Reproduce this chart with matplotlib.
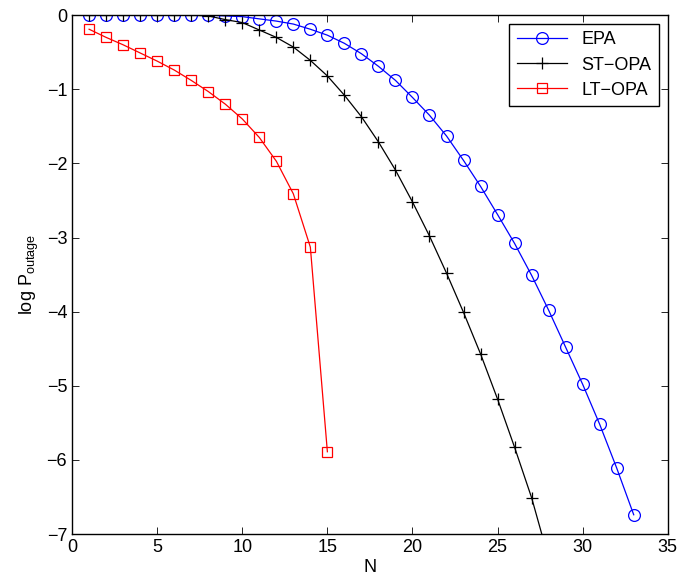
import numpy as np
import matplotlib as mpl
import matplotlib.pyplot as plt

mpl.rcParams['font.family'] = ['Liberation Sans', 'DejaVu Sans']
mpl.rcParams['font.size'] = 13
mpl.rcParams['axes.linewidth'] = 1.0

# outage curves
n_epa = list(range(1, 34))
epa = [0, 0, 0, 0, 0, 0, 0, 0, -0.01, -0.02, -0.05, -0.08, -0.12, -0.19,
       -0.27, -0.38, -0.52, -0.69, -0.88, -1.11, -1.35, -1.63, -1.96,
       -2.31, -2.69, -3.08, -3.51, -3.98, -4.48, -4.98, -5.52, -6.11, -6.74]

n_st = list(range(1, 29))
st_opa = [0, 0, 0, 0, 0, 0, 0, -0.01, -0.06, -0.10, -0.20, -0.30, -0.43,
          -0.61, -0.82, -1.08, -1.37, -1.71, -2.09, -2.52, -2.98, -3.48,
          -4.01, -4.57, -5.18, -5.83, -6.51, -7.33]

n_lt = list(range(1, 16))
lt_opa = [-0.19, -0.30, -0.40, -0.51, -0.62, -0.74, -0.88, -1.03, -1.20,
          -1.40, -1.65, -1.97, -2.41, -3.13, -5.89]

fig = plt.figure(figsize=(6.8, 5.83), dpi=100)
ax = fig.add_axes([0.106, 0.084, 0.876, 0.89])

ax.plot(n_epa, epa, color='blue', lw=0.9, marker='o', ms=8.5,
        mfc='none', mew=0.9, label='EPA')
ax.plot(n_st, st_opa, color='black', lw=0.9, marker='+', ms=9,
        mew=0.9, label='ST\u2212OPA')
ax.plot(n_lt, lt_opa, color='red', lw=0.9, marker='s', ms=6.5,
        mfc='none', mew=0.9, label='LT\u2212OPA')

ax.set_xlim(0, 35)
ax.set_ylim(-7, 0)
ax.set_xticks(range(0, 36, 5))
ax.set_yticks(range(-7, 1))
ax.tick_params(direction='in', top=True, right=True, length=5, width=0.6)
ax.set_xlabel('N', labelpad=2)
ax.set_ylabel(r'log P$_{\mathregular{outage}}$', labelpad=4)

leg = ax.legend(loc='upper right', fancybox=False, edgecolor='black',
                framealpha=1, borderaxespad=0.5, handlelength=2.8,
                labelspacing=0.45, fontsize=13)
leg.get_frame().set_linewidth(1.0)

fig.savefig('out.png', dpi=100)
